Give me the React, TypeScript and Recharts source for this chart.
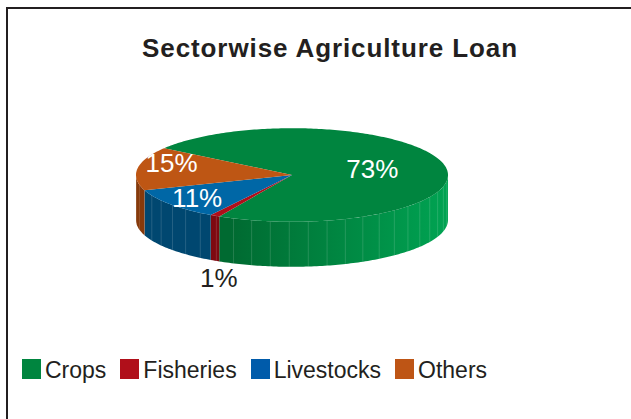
import React from 'react';
import { PieChart, Pie, Legend } from 'recharts';

const sectors = ['Crops', 'Fisheries', 'Livestocks', 'Others'];
const shares = [73, 1, 11, 15];
const topColors = ['#00853F', '#B00F1A', '#0067A6', '#BE5614'];
const sideDark = ['#006A31', '#7E0910', '#004770', '#86390A'];
const sideLight = ['#00A352', '#A30E18', '#0A5E92', '#A84C12'];
const legendColors = ['#00853F', '#B00F1A', '#005BAA', '#BE5515'];

const data = sectors.map((name, i) => ({ name, value: shares[i] }));

const TILT = 0.3;
const DEPTH = 45;
const RAD = Math.PI / 180;
const FONT = '"Liberation Sans", Arial, Helvetica, sans-serif';

// points along the elliptical rim, from a1 to a2 (degrees)
const arcPts = (cx: number, cy: number, rx: number, ry: number, a1: number, a2: number, dy = 0) => {
  const n = Math.max(2, Math.ceil(Math.abs(a2 - a1)));
  const pts: string[] = [];
  for (let k = 0; k <= n; k++) {
    const a = (a1 + ((a2 - a1) * k) / n) * RAD;
    pts.push(`${(cx + rx * Math.cos(a)).toFixed(2)},${(cy - ry * Math.sin(a) + dy).toFixed(2)}`);
  }
  return pts;
};

const renderSide = (p: any) => {
  const { cx, cy, outerRadius, startAngle, endAngle, index } = p;
  const rx = outerRadius;
  const ry = outerRadius * TILT;
  const lo = Math.min(startAngle, endAngle);
  const hi = Math.max(startAngle, endAngle);
  const parts: React.ReactNode[] = [];
  // front half of the disc: (180, 360) mod 360
  [-360, 0, 360].forEach((base) => {
    const a1 = Math.max(lo, base + 180);
    const a2 = Math.min(hi, base + 360);
    if (a2 <= a1) return;
    const top = arcPts(cx, cy, rx, ry, a1, a2);
    const bottom = arcPts(cx, cy, rx, ry, a2, a1, DEPTH);
    parts.push(
      <polygon key={`s${base}`} points={[...top, ...bottom].join(' ')} fill={`url(#side${index})`} />
    );
    for (let a = Math.ceil(a1 / 7) * 7; a < a2; a += 7) {
      const x = cx + rx * Math.cos(a * RAD);
      const y = cy - ry * Math.sin(a * RAD);
      parts.push(
        <line key={`l${base}-${a}`} x1={x} y1={y} x2={x} y2={y + DEPTH}
          stroke="#ffffff" strokeOpacity={0.14} strokeWidth={1} />
      );
    }
  });
  return <g key={`side-${index}`}>{parts}</g>;
};

const renderTop = (p: any) => {
  const { cx, cy, outerRadius, startAngle, endAngle, index } = p;
  const rx = outerRadius;
  const ry = outerRadius * TILT;
  const pts = [`${cx},${cy}`, ...arcPts(cx, cy, rx, ry, startAngle, endAngle)];
  return <polygon key={`top-${index}`} points={pts.join(' ')} fill={topColors[index]} />;
};

const renderText = (p: any) => {
  const { cx, cy, outerRadius, midAngle, percent, index } = p;
  const rx = outerRadius;
  const ry = outerRadius * TILT;
  const c = Math.cos(midAngle * RAD);
  const s = Math.sin(midAngle * RAD);
  const txt = `${Math.round(percent * 100)}%`;
  if (percent < 0.05) {
    // thin slice: label sits below the rim
    return (
      <text key={`t-${index}`} x={cx + rx * 0.95 * c} y={cy - ry * s + DEPTH + 17}
        textAnchor="middle" dominantBaseline="central" fill="#231F20"
        fontSize={26} fontFamily={FONT}>{txt}</text>
    );
  }
  const f = percent > 0.5 ? 0.53 : 0.78;
  const lift = percent > 0.5 ? 0 : c < -0.95 ? -7 : 0;
  return (
    <text key={`t-${index}`} x={cx + rx * f * c} y={cy - ry * f * s + lift}
      textAnchor="middle" dominantBaseline="central" fill="#ffffff"
      fontSize={26} fontFamily={FONT}>{txt}</text>
  );
};

const LegendContent = () => (
  <div style={{ display: 'flex', alignItems: 'flex-start', fontFamily: FONT, fontSize: 23, lineHeight: '23px', color: '#231F20' }}>
    {sectors.map((name, i) => (
      <div key={name} style={{ display: 'flex', alignItems: 'flex-start', marginRight: 14 }}>
        <span style={{ display: 'inline-block', width: 19, height: 20, background: legendColors[i], marginRight: 4 }} />
        <span>{name}</span>
      </div>
    ))}
  </div>
);

export default function App() {
  return (
    <div style={{ position: 'fixed', left: 0, top: 0, width: 631, height: 419, overflow: 'hidden', background: '#ffffff' }}>
      <div style={{ position: 'absolute', left: 6, top: 7, width: 700, height: 500, borderTop: '2px solid #231F20', borderLeft: '2px solid #231F20' }} />
      <div style={{ position: 'absolute', left: 0, top: 35, width: 660, textAlign: 'center', fontFamily: FONT, fontWeight: 'bold', fontSize: 26, lineHeight: '26px', letterSpacing: 0.9, color: '#231F20' }}>
        Sectorwise Agriculture Loan
      </div>
      <div style={{ position: 'absolute', left: 0, top: 0 }}>
        <PieChart width={631} height={419} margin={{ top: 0, right: 0, bottom: 0, left: 0 }}>
          <defs>
            {sectors.map((name, i) => (
              <linearGradient key={name} id={`side${i}`} gradientUnits="userSpaceOnUse" x1={136} y1={0} x2={448} y2={0}>
                <stop offset="0%" stopColor={sideDark[i]} />
                <stop offset="30%" stopColor={sideDark[i]} />
                <stop offset="100%" stopColor={sideLight[i]} />
              </linearGradient>
            ))}
          </defs>
          <Pie data={data} dataKey="value" nameKey="name" cx={292} cy={175} outerRadius={156}
            startAngle={145} endAngle={-215} fill="none" stroke="none"
            isAnimationActive={false} labelLine={false} label={renderSide} />
          <Pie data={data} dataKey="value" nameKey="name" cx={292} cy={175} outerRadius={156}
            startAngle={145} endAngle={-215} fill="none" stroke="none" legendType="none"
            isAnimationActive={false} labelLine={false} label={renderTop} />
          <Pie data={data} dataKey="value" nameKey="name" cx={292} cy={175} outerRadius={156}
            startAngle={145} endAngle={-215} fill="none" stroke="none" legendType="none"
            isAnimationActive={false} labelLine={false} label={renderText} />
          <Legend content={<LegendContent />}
            wrapperStyle={{ position: 'absolute', left: 22, top: 359, width: 600, height: 30 }} />
        </PieChart>
      </div>
    </div>
  );
}
